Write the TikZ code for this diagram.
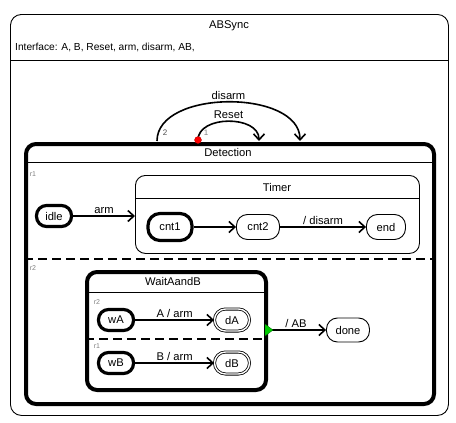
\documentclass[tikz,border=0pt]{standalone}
\usepackage{fontspec}
\setmainfont{Liberation Sans}
\usetikzlibrary{arrows.meta}
\begin{document}
\begin{tikzpicture}[x=1pt,y=-1pt, font=\fontsize{11.2}{13}\selectfont,
  box/.style={draw, rectangle, anchor=north west, inner sep=0pt},
  st/.style={draw, rectangle, rounded corners=11pt, inner sep=0pt, minimum height=24pt, line width=0.9pt},
  initst/.style={st, line width=3.2pt, minimum height=21pt, rounded corners=10pt},
  finst/.style={st, double, double distance=1.4pt, line width=0.8pt, minimum height=22pt},
  trans/.style={line width=1.6pt, -{Straight Barb[length=6pt,width=11pt,line width=1.6pt]}},
  reg/.style={font=\fontsize{7}{8}\selectfont, text=gray, inner sep=0pt},
  lbl/.style={inner sep=1.5pt},
  sep/.style={line width=0.8pt}]
\useasboundingbox (0,0) rectangle (456,423);
% outer state
\node[box, rounded corners=11pt, line width=0.9pt, minimum width=438pt, minimum height=401pt] (absync) at (10,14) {};
\node (abt) at (229,26) {ABSync};
\node[anchor=west, inner sep=0pt, font=\fontsize{10.2}{12}\selectfont] (iface) at (15,47) {Interface: A, B, Reset, arm, disarm, AB,};
\draw[sep] (absync.west |- 0,60) -- (absync.east |- 0,60);
% Detection
\node[box, rounded corners=10pt, line width=4pt, minimum width=408pt, minimum height=260pt] (det) at (24,142) {};
\node (dett) at (228,152) {Detection};
\draw[sep] (det.west |- 0,162) -- (det.east |- 0,162);
\node[reg] (r1a) at (33,174) {r1};
\draw[line width=1.1pt, dash pattern=on 9pt off 5pt] (det.west |- 0,259) -- (det.east |- 0,259);
\node[reg] (r2a) at (33,268) {r2};
% region r1
\node[initst, minimum width=35pt] (idle) at (54,216) {idle};
\node[box, rounded corners=10pt, line width=0.9pt, minimum width=284pt, minimum height=78pt] (timer) at (135,175) {};
\node (timert) at (277,187) {Timer};
\draw[sep] (timer.west |- 0,198) -- (timer.east |- 0,198);
\node[initst, minimum width=44pt, minimum height=27pt, rounded corners=12pt] (cnt1) at (170,227) {cnt1};
\node[st, minimum width=43pt, minimum height=25pt] (cnt2) at (258,227) {cnt2};
\node[st, minimum width=39pt, minimum height=25pt] (end) at (386,227) {end};
\draw[trans] (idle.east) -- node[lbl, above] {arm} (idle.east -| timer.west);
\draw[trans] (cnt1.east) -- (cnt2.west);
\draw[trans] (cnt2.east) -- node[lbl, above] {/ disarm} (end.west);
% region r2
\node[box, rounded corners=10pt, line width=4pt, minimum width=179pt, minimum height=118pt] (wait) at (85,270) {};
\node (waitt) at (173,281) {WaitAandB};
\draw[sep] (wait.west |- 0,292) -- (wait.east |- 0,292);
\node[reg] (r2b) at (97,302) {r2};
\node[initst, minimum width=35pt] (wA) at (116,320) {wA};
\node[finst, minimum width=35pt] (dA) at (232,320) {dA};
\draw[trans] (wA.east) -- node[lbl, above] {A / arm} (dA.west);
\draw[line width=1.1pt, dash pattern=on 9pt off 5pt] (wait.west |- 0,339) -- (wait.east |- 0,339);
\node[reg] (r1b) at (97,346) {r1};
\node[initst, minimum width=35pt] (wB) at (116,363) {wB};
\node[finst, minimum width=35pt] (dB) at (232,363) {dB};
\draw[trans] (wB.east) -- node[lbl, above] {B / arm} (dB.west);
\node[st, minimum width=43pt, minimum height=24pt] (done) at (348,330) {done};
\coordinate (join) at (266,330);
\draw[trans] (join) -- node[lbl, above] {/ AB} (done.west |- join);
\fill[green!80!black, draw=green!40!black, line width=0.3pt] (265,324) -- (273,330) -- (265,336) -- cycle;
% transitions on Detection
\coordinate (d2) at (157,141);
\coordinate (d2e) at (300,141);
\coordinate (d1) at (198,140);
\coordinate (d1e) at (259,141);
\draw[trans] (d2) .. controls (157,89) and (300,89) .. node[lbl, above] {disarm} (d2e);
\draw[trans] (d1) .. controls (198,115) and (259,115) .. node[lbl, above, pos=0.5] {Reset} (d1e);
\fill[red, draw=red!70!black, line width=0.3pt] (d1) circle (3.5pt);
\node[reg, text=black!70, font=\fontsize{8}{9}\selectfont] (n2) at (165,133) {2};
\node[reg, text=black!50, font=\fontsize{8}{9}\selectfont] (n1) at (206,133) {1};
\end{tikzpicture}
\end{document}
